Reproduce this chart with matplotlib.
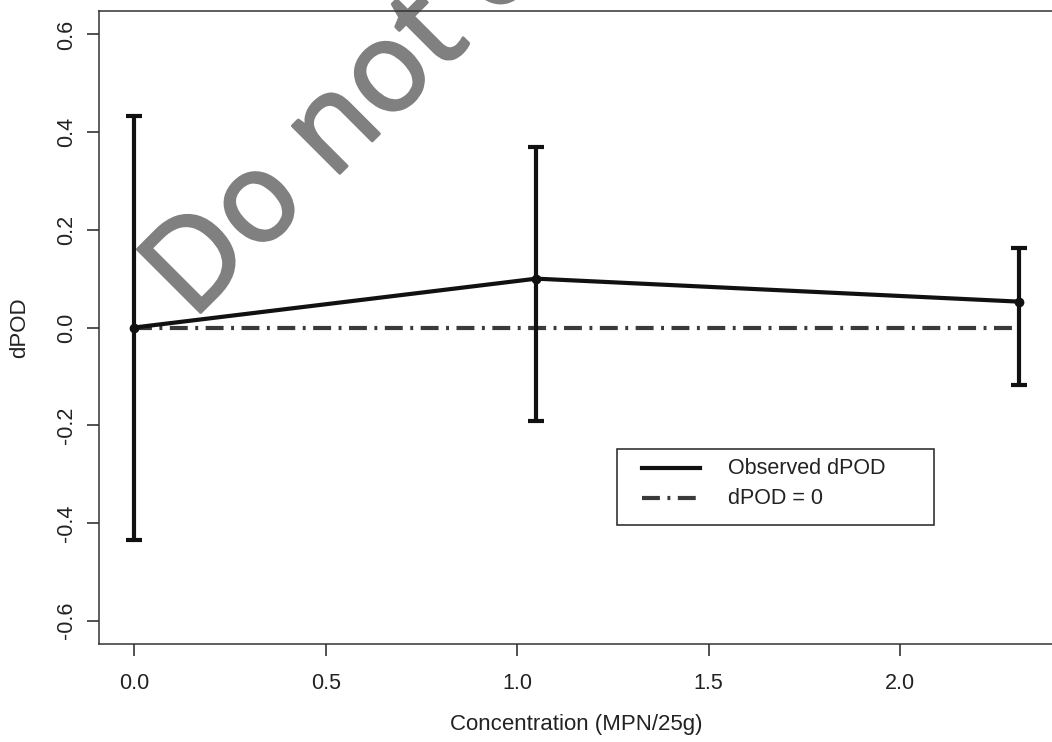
import matplotlib
matplotlib.use("Agg")
import matplotlib.pyplot as plt
import matplotlib.patheffects as pe
from matplotlib.lines import Line2D
from matplotlib.patches import Rectangle

# Observed difference in probability of detection by concentration
concentration = [0.0, 1.05, 2.31]
dpod = [0.0, 0.10, 0.053]
ci_lower = [-0.436, -0.192, -0.118]
ci_upper = [0.434, 0.370, 0.162]

x_ticks = [0.0, 0.5, 1.0, 1.5, 2.0]
y_ticks = [-0.6, -0.4, -0.2, 0.0, 0.2, 0.4, 0.6]
legend_labels = ["Observed dPOD", "dPOD = 0"]

W, H = 1052, 742
fig = plt.figure(figsize=(W / 100, H / 100), dpi=100)
plt.rcParams["font.family"] = ["Liberation Sans", "DejaVu Sans"]


def fx(px):
    return px / W


def fy(py):
    return 1 - py / H


ax = fig.add_axes([fx(99), fy(644), (1054 - 99) / W, (644 - 11) / H])
ax.set_xlim(-0.0924, 2.4024)
ax.set_ylim(-0.648, 0.648)

lw = 3.0
main_color = "#111111"
ref_color = "#3a3a3a"
dashdot = (0, (4.3, 1.8, 0.7, 1.8))

# watermark sits underneath the data
ax.text(fx(192), fy(321), "Do not copy", transform=fig.transFigure,
        family=["Open Sans", "DejaVu Sans"],
        fontsize=90, color="#808080", rotation=45, rotation_mode="anchor",
        ha="left", va="baseline", zorder=1, clip_on=False,
        path_effects=[pe.withStroke(linewidth=2.2, foreground="#808080")])

# reference line at zero
ax.plot([concentration[0], concentration[-1]], [0, 0], color=ref_color, lw=lw,
        ls=dashdot, solid_capstyle="butt", zorder=2)

# confidence intervals
yerr = [[d - lo for d, lo in zip(dpod, ci_lower)],
        [hi - d for d, hi in zip(dpod, ci_upper)]]
ax.errorbar(concentration, dpod, yerr=yerr, fmt="none", ecolor=main_color,
            elinewidth=lw, capsize=6, capthick=lw, zorder=3)

# observed dPOD
ax.plot(concentration, dpod, color=main_color, lw=lw, marker="o", ms=6, zorder=4)

ax.set_xticks(x_ticks)
ax.set_xticklabels([f"{v:.1f}" for v in x_ticks])
ax.set_yticks(y_ticks)
ax.set_yticklabels([f"{v:.1f}" for v in y_ticks], rotation=90, va="center")

ax.tick_params(direction="out", length=8.6, width=1.1, labelsize=15.5,
               colors="#222222")
ax.tick_params(axis="x", pad=12)
ax.tick_params(axis="y", pad=7)
for s in ax.spines.values():
    s.set_linewidth(1.1)
    s.set_color("#333333")
    s.set_zorder(5)

ax.set_xlabel("Concentration (MPN/25g)", fontsize=16, color="#222222")
ax.xaxis.set_label_coords(0.5, -0.11)
ax.set_ylabel("dPOD", fontsize=16, color="#222222")
ax.yaxis.set_label_coords(-0.072, 0.5)

# legend box
fig.add_artist(Rectangle((fx(617), fy(525)), (934 - 617) / W, (525 - 449) / H,
                         transform=fig.transFigure, facecolor="white",
                         edgecolor="#222222", lw=1.1, zorder=5))
for row_y, color, style, label in [(468, main_color, "-", legend_labels[0]),
                                   (498, ref_color, dashdot, legend_labels[1])]:
    fig.add_artist(Line2D([fx(642), fx(700)], [fy(row_y), fy(row_y)],
                          transform=fig.transFigure, color=color, lw=lw,
                          ls=style, zorder=6))
    fig.text(fx(728), fy(row_y), label, fontsize=15.5, color="#222222",
             ha="left", va="center", zorder=6)

fig.savefig("out.png", dpi=100)
